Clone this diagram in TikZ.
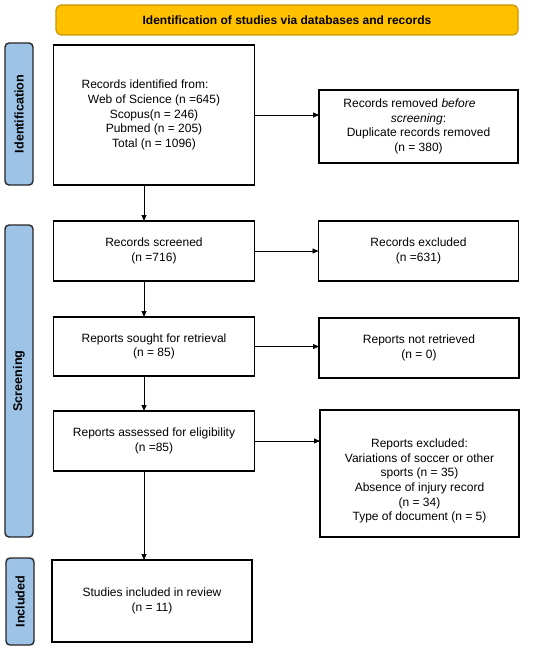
\documentclass[tikz,border=0pt]{standalone}
\usepackage{fontspec}
\setmainfont{Liberation Sans}
\usepackage{xcolor}
\usetikzlibrary{positioning,arrows.meta,calc}
\definecolor{prismagelb}{HTML}{FFC000}
\definecolor{prismarand}{HTML}{C8960A}
\definecolor{prismablau}{HTML}{9DC3E6}

\begin{document}
\begin{tikzpicture}[x=1pt,y=-1pt,
    kasten/.style={draw, line width=1.3pt, align=center, inner sep=2pt, outer sep=0pt,
      minimum width=201pt, font=\fontsize{12}{14.6}\selectfont},
    phase/.style={draw=black!85, line width=1.4pt, fill=prismablau, rounded corners=4pt,
      minimum height=28pt, rotate=90, font=\bfseries\fontsize{12.6}{14}\selectfont},
    pfeil/.style={-{Triangle[length=6pt,width=5pt]}, line width=0.8pt}]
            % Platzhalter
            \useasboundingbox (0,0) rectangle (550,650);

            \node[draw=prismarand, line width=1.2pt, fill=prismagelb, rounded corners=5pt,
              minimum width=462pt, minimum height=30pt, font=\bfseries\fontsize{12}{14}\selectfont]
              (kopf) at (287,20) {Identification of studies via databases and records};

            % Phasen
            \node[phase, minimum width=142pt] (identbar) at (19,114) {Identification};
            \node[phase, minimum width=312pt] (screenbar) at (19,381) {Screening};
            \node[phase, minimum width=87pt] (inclbar) at (20,601.5) {Included};

            % linke Spalte
            \node[kasten, minimum height=140pt] (ident) at (154,115)
              {Records identified from:\hspace*{18pt}\\ Web of Science (n =645)\\ Scopus(n = 246)\\
               Pubmed (n = 205)\\ Total (n = 1096)};
            \node[kasten, minimum height=60pt] (screened) at (154,251) {Records screened\\ (n =716)};
            \node[kasten, minimum height=59pt] (sought) at (154,346.5) {Reports sought for retrieval\\ (n = 85)};
            \node[kasten, minimum height=60pt] (assessed) at (154,441) {Reports assessed for eligibility\\ (n =85)};
            \node[kasten, minimum width=200pt, minimum height=82pt] (included) at (152,601)
              {Studies included in review\\ (n = 11)};

            % rechte Spalte
            \node[kasten, minimum width=199pt, minimum height=73pt] (removed) at (418.5,126.5)
              {Records removed \textit{before}\hspace*{18pt}\\ \textit{screening}:\hspace*{18pt}\\
               Duplicate records removed\\ (n = 380)};
            \node[kasten, minimum width=200pt, minimum height=60pt, right=64pt of screened] (excluded)
              {Records excluded\\ (n =631)};
            \node[kasten, minimum width=200pt, minimum height=60pt] (notretr) at (419,348)
              {Reports not retrieved\\ (n = 0)};
            \node[kasten, minimum width=199pt, minimum height=127pt] (repexcl) at (419.5,473.5)
              {\rule{0pt}{24pt}Reports excluded:\\ Variations of soccer or other\\ sports (n = 35)\\
               Absence of injury record\\ (n = 34)\\ Type of document (n = 5)};

            \draw[pfeil] (ident.east) -- (ident.east -| removed.west);
            \draw[pfeil] (screened) -- (excluded);
            \draw[pfeil] (sought.east) -- (sought.east -| notretr.west);
            \draw[pfeil] (assessed.east) -- (assessed.east -| repexcl.west);

            \draw[pfeil] ([xshift=-10pt]ident.south) -- ([xshift=-10pt]screened.north);
            \draw[pfeil] ([xshift=-10pt]screened.south) -- ([xshift=-10pt]sought.north);
            \draw[pfeil] ([xshift=-10pt]sought.south) -- ([xshift=-10pt]assessed.north);
            \draw[pfeil] ([xshift=-10pt]assessed.south) -- ([xshift=-8pt]included.north);
        \end{tikzpicture}
\end{document}
